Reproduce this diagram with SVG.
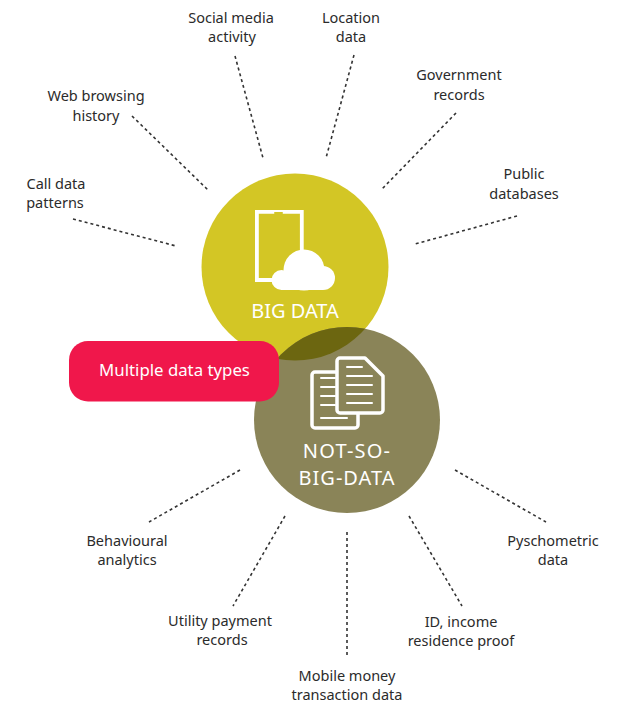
<svg xmlns="http://www.w3.org/2000/svg" width="626" height="714" viewBox="0 0 626 714">
<style>
text{font-family:"Noto Sans","Open Sans","Liberation Sans",sans-serif;text-anchor:middle}
.l{font-size:14.5px;fill:#2b2b2b}
.w{fill:#fff}
.c line{stroke:#333;stroke-width:1.6;stroke-dasharray:3 3;fill:none}
.s{fill:none;stroke:#fff;stroke-linejoin:round;stroke-linecap:round}
.t{stroke:#fff;stroke-width:2;stroke-linecap:round}
</style>
<defs><clipPath id="big"><circle cx="295" cy="267" r="93.5"/></clipPath></defs>
<rect width="626" height="714" fill="#fff"/>
<g id="connectors" class="c">
<line x1="235" y1="56" x2="263" y2="158"/>
<line x1="354" y1="55" x2="326" y2="158"/>
<line x1="456" y1="113" x2="382" y2="189"/>
<line x1="517" y1="216" x2="415" y2="244"/>
<line x1="132" y1="116" x2="208" y2="190"/>
<line x1="73" y1="219" x2="176" y2="246"/>
<line x1="240" y1="470" x2="149" y2="522"/>
<line x1="285" y1="516" x2="233" y2="606"/>
<line x1="347" y1="532" x2="347" y2="657"/>
<line x1="409" y1="516" x2="462" y2="606"/>
<line x1="455" y1="470" x2="546" y2="522"/>
</g>
<g id="big-data">
<circle cx="295" cy="267" r="93.5" fill="#d3c625"/>
<path fill="none" stroke="#fff" stroke-width="3.8" d="M273 280H256.900V211.900H301.800V250"/>
<rect x="274" y="212" width="9" height="2" rx="1" fill="#d3c625"/>
<g fill="#fff"><circle cx="281.500" cy="280" r="10"/><circle cx="304" cy="270" r="20.500"/><circle cx="323" cy="278" r="12"/><rect x="281" y="272" width="42" height="18"/></g>
<text class="w" x="295" y="318" font-size="20">BIG DATA</text>
</g>
<g id="not-so-big-data">
<circle cx="347" cy="420" r="93" fill="#8a8458"/>
<circle cx="347" cy="420" r="93" fill="#6c6610" clip-path="url(#big)"/>
<path d="M336 372H315a3 3 0 0 0-3 3V425a3 3 0 0 0 3 3H355a3 3 0 0 0 3-3V414" fill="none" stroke="#fff" stroke-width="3.500"/>
<g class="t">
<line x1="321" y1="378" x2="335" y2="378"/>
<line x1="321" y1="387" x2="335" y2="387"/>
<line x1="321" y1="396" x2="335" y2="396"/>
<line x1="321" y1="405" x2="335" y2="405"/>
<line x1="321" y1="418" x2="347" y2="418"/>
</g>
<path fill="#8a8458" stroke="#fff" stroke-width="3.500" stroke-linejoin="round" d="M340 358H365L383 376V410a3 3 0 0 1-3 3H340a3 3 0 0 1-3-3V361a3 3 0 0 1 3-3z"/>
<g class="t">
<line x1="347" y1="367" x2="362" y2="367"/>
<line x1="347" y1="376" x2="372" y2="376"/>
<line x1="347" y1="385" x2="372" y2="385"/>
<line x1="347" y1="394" x2="372" y2="394"/>
<line x1="347" y1="403" x2="372" y2="403"/>
</g>
<text class="w" x="347" y="458" font-size="20" letter-spacing="1.200">NOT-SO-</text>
<text class="w" x="347" y="485" font-size="20" letter-spacing="1">BIG-DATA</text>
</g>
<g id="multiple-data-types">
<rect x="69" y="341" width="210" height="60.500" rx="19" fill="#f0174b"/>
<text class="w" x="174.500" y="376" font-size="16.800">Multiple data types</text>
</g>
<g id="labels">
<g id="social"><text class="l" x="231" y="23">Social media</text><text class="l" x="232" y="42">activity</text></g>
<g id="location"><text class="l" x="351" y="23">Location</text><text class="l" x="351" y="42">data</text></g>
<g id="government"><text class="l" x="459" y="80">Government</text><text class="l" x="459" y="100">records</text></g>
<g id="public"><text class="l" x="524" y="179">Public</text><text class="l" x="524" y="199">databases</text></g>
<g id="web"><text class="l" x="96" y="101">Web browsing</text><text class="l" x="96" y="121">history</text></g>
<g id="call"><text class="l" x="56" y="189">Call data</text><text class="l" x="55" y="208">patterns</text></g>
<g id="behavioural"><text class="l" x="127" y="546">Behavioural</text><text class="l" x="127" y="565">analytics</text></g>
<g id="utility"><text class="l" x="220" y="626">Utility payment</text><text class="l" x="222" y="645">records</text></g>
<g id="mobile"><text class="l" x="347" y="681">Mobile money</text><text class="l" x="347" y="700">transaction data</text></g>
<g id="id"><text class="l" x="461" y="627">ID, income</text><text class="l" x="461" y="646">residence proof</text></g>
<g id="psychometric"><text class="l" x="553" y="546">Pyschometric</text><text class="l" x="553" y="565">data</text></g>
</g>
</svg>
